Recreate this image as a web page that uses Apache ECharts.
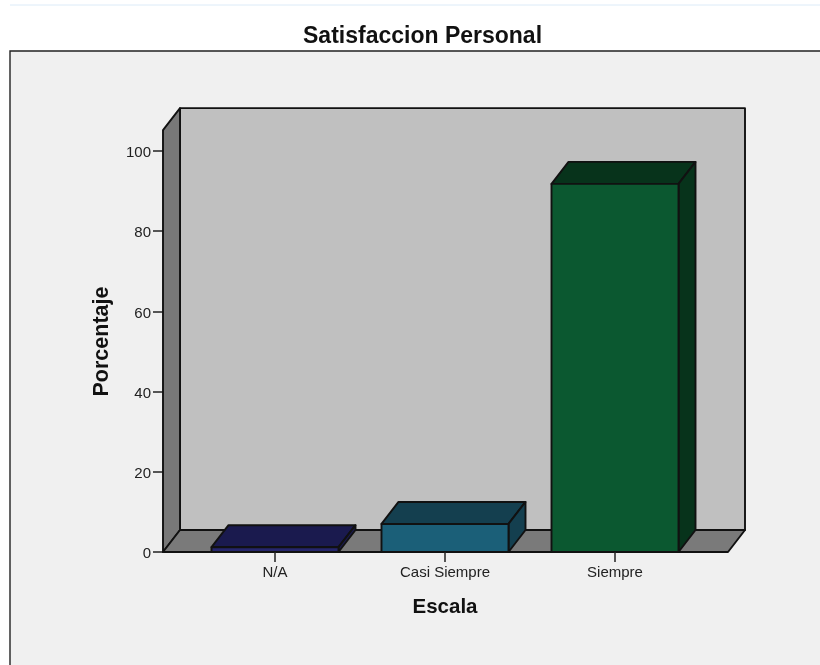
<!DOCTYPE html>
<html>
<head>
<meta charset="utf-8">
<style>html,body{margin:0;padding:0;background:#fff}#chart{width:820px;height:665px}</style>
<script src="https://cdn.jsdelivr.net/npm/echarts@6/dist/echarts.min.js"></script>
</head>
<body>
<div id="chart"></div>
<script>
// Percentage of answers for each scale level
const categories = ['N/A', 'Casi Siempre', 'Siempre'];
const percentages = [1.2, 7, 91.8];
const frontColors = ['#26266c', '#1b5f78', '#0b5830'];
const shadeColors = ['#1a1a4e', '#143f4f', '#07331b'];
const yTicks = [0, 20, 40, 60, 80, 100];

// Pseudo-3D box geometry, in pixels
const DEPTH_X = 17, DEPTH_Y = -22, BAR_WIDTH = 127;
const FLOOR_LEFT = 27, FLOOR_RIGHT = 28;
const WALL_TOP_VALUE = 105.2;
const EDGE = { stroke: '#111', lineWidth: 1.9, lineJoin: 'round' };

function poly(points, fill) {
  return { type: 'polygon', shape: { points }, style: { fill, ...EDGE } };
}

// Back wall, side wall and floor of the plotting box
function renderWalls(params, api) {
  const cs = params.coordSys;
  const x0 = cs.x - FLOOR_LEFT, x1 = cs.x + cs.width + FLOOR_RIGHT;
  const yb = api.coord([0, 0])[1], yt = api.coord([0, WALL_TOP_VALUE])[1];
  const dx = DEPTH_X, dy = DEPTH_Y;
  return {
    type: 'group',
    children: [
      poly([[x0 + dx, yt + dy], [x1 + dx, yt + dy], [x1 + dx, yb + dy], [x0 + dx, yb + dy]], '#c0c0c0'),
      poly([[x0, yt], [x0 + dx, yt + dy], [x0 + dx, yb + dy], [x0, yb]], '#787878'),
      poly([[x0, yb], [x0 + dx, yb + dy], [x1 + dx, yb + dy], [x1, yb]], '#7a7a7a')
    ]
  };
}

// One extruded bar: front, top and right faces
function renderBar(params, api) {
  const i = api.value(0);
  const top = api.coord([i, api.value(1)]);
  const base = api.coord([i, 0]);
  const l = top[0] - BAR_WIDTH / 2, r = top[0] + BAR_WIDTH / 2;
  const dx = DEPTH_X, dy = DEPTH_Y;
  return {
    type: 'group',
    children: [
      poly([[l, top[1]], [l + dx, top[1] + dy], [r + dx, top[1] + dy], [r, top[1]]], shadeColors[i]),
      poly([[r, top[1]], [r + dx, top[1] + dy], [r + dx, base[1] + dy], [r, base[1]]], shadeColors[i]),
      poly([[l, top[1]], [r, top[1]], [r, base[1]], [l, base[1]]], frontColors[i])
    ]
  };
}

const chart = echarts.init(document.getElementById('chart'), null, { renderer: 'canvas' });
const FONT = 'Liberation Sans';
chart.setOption({
  animation: false,
  backgroundColor: '#ffffff',
  title: {
    text: 'Satisfaccion Personal',
    left: 298, top: 20,
    textStyle: { fontFamily: FONT, fontSize: 23, fontWeight: 'bold', color: '#111' }
  },
  graphic: [
    { type: 'line', z: 0, shape: { x1: 10, y1: 5, x2: 820, y2: 5 }, style: { stroke: '#dcebf8', lineWidth: 1 } },
    { type: 'rect', z: 0, shape: { x: 10, y: 51, width: 830, height: 640 }, style: { fill: '#f0f0f0', stroke: '#222', lineWidth: 1.4 } }
  ],
  grid: { left: 190, top: 151, width: 510, height: 401 },
  xAxis: {
    type: 'category',
    data: categories,
    name: 'Escala',
    nameLocation: 'middle',
    nameGap: 45,
    nameTextStyle: { fontFamily: FONT, fontSize: 20.5, fontWeight: 'bold', color: '#111' },
    axisLine: { show: false },
    axisTick: { show: true, alignWithLabel: true, length: 10, lineStyle: { color: '#222', width: 1.5 } },
    axisLabel: { fontFamily: FONT, fontSize: 15, color: '#222', margin: 13 },
    z: 5
  },
  yAxis: {
    type: 'value',
    min: yTicks[0],
    max: yTicks[yTicks.length - 1],
    interval: yTicks[1] - yTicks[0],
    offset: FLOOR_LEFT,
    name: 'Porcentaje',
    nameLocation: 'middle',
    nameGap: 50,
    nameTextStyle: { fontFamily: FONT, fontSize: 21.5, fontWeight: 'bold', color: '#111', padding: [0, 0, 0, 20] },
    axisLine: { show: false },
    axisTick: { show: true, length: 10, lineStyle: { color: '#222', width: 1.5 } },
    axisLabel: { fontFamily: FONT, fontSize: 15, color: '#222', margin: 12, verticalAlign: 'top', lineHeight: 4 },
    splitLine: { show: false }
  },
  series: [
    { type: 'custom', name: 'Caja', clip: false, z: 1, silent: true, data: [[0, 0]], renderItem: renderWalls, encode: { x: 0, y: 1 } },
    { type: 'custom', name: 'Porcentaje', clip: false, z: 2, data: percentages.map((v, i) => [i, v]), renderItem: renderBar, encode: { x: 0, y: 1 } }
  ]
});
</script>
</body>
</html>
